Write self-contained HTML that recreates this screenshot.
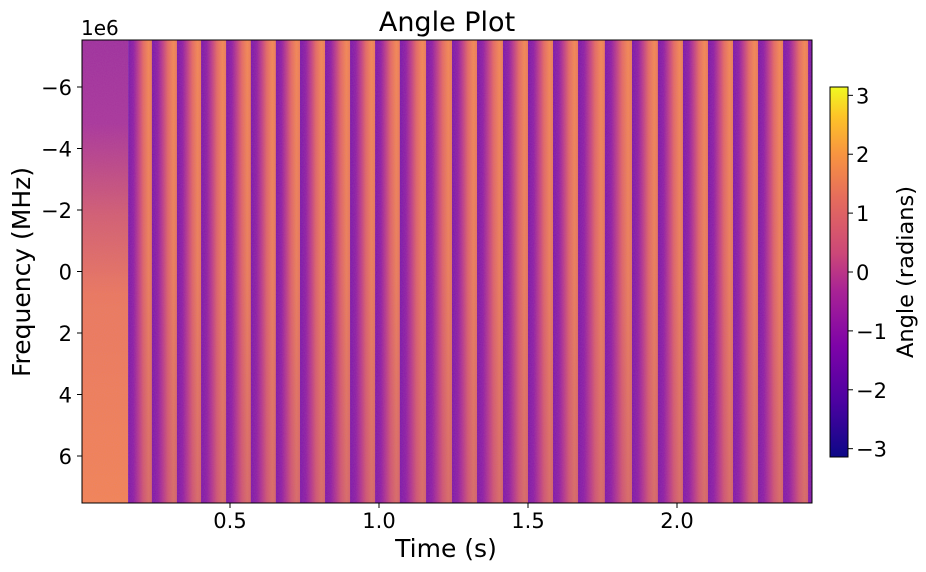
<!DOCTYPE html>
<html><head><meta charset="utf-8"><style>
body{margin:0;background:#fff;}
svg{display:block;font-family:"DejaVu Sans","Liberation Sans",sans-serif;}
</style></head><body>
<svg id="chart" width="926" height="572" viewBox="0 0 926 572" xmlns="http://www.w3.org/2000/svg">
<defs>
<linearGradient id="stripe" x1="0" x2="1" y1="0" y2="0">
<stop offset="0" stop-color="#780ca8"/>
<stop offset="0.22" stop-color="#8e18a4"/>
<stop offset="0.42" stop-color="#bd3f87"/>
<stop offset="0.62" stop-color="#e46c5e"/>
<stop offset="0.84" stop-color="#f38b4a"/>
<stop offset="1" stop-color="#e97b55"/>
</linearGradient>
<linearGradient id="shade" x1="0" x2="0" y1="0" y2="1">
<stop offset="0" stop-color="#8a14a4" stop-opacity="0"/>
<stop offset="0.5" stop-color="#8a14a4" stop-opacity="0.08"/>
<stop offset="1" stop-color="#8a14a4" stop-opacity="0.25"/>
</linearGradient>
<linearGradient id="lead" x1="0" x2="0" y1="0" y2="1">
<stop offset="0" stop-color="#9e2e9c"/>
<stop offset="0.18" stop-color="#a8359a"/>
<stop offset="0.38" stop-color="#d2606e"/>
<stop offset="0.55" stop-color="#ea7a58"/>
<stop offset="1" stop-color="#f2864e"/>
</linearGradient>
<linearGradient id="cmap" x1="0" x2="0" y1="1" y2="0">
<stop offset="0" stop-color="#0d0887"/>
<stop offset="0.15" stop-color="#4c02a1"/>
<stop offset="0.3" stop-color="#7e03a8"/>
<stop offset="0.45" stop-color="#a92395"/>
<stop offset="0.55" stop-color="#cc4778"/>
<stop offset="0.7" stop-color="#e66c5c"/>
<stop offset="0.82" stop-color="#f89540"/>
<stop offset="0.92" stop-color="#fdc328"/>
<stop offset="1" stop-color="#f0f921"/>
</linearGradient>
<filter id="noise" x="0" y="0" width="100%" height="100%">
<feTurbulence type="fractalNoise" baseFrequency="0.9" numOctaves="1" seed="3" result="n"/>
<feColorMatrix in="n" type="matrix" values="0 0 0 0 0.6  0 0 0 0 0.2  0 0 0 0 0.6  0 0 0 0.12 0" result="nc"/>
<feComposite in="nc" in2="SourceGraphic" operator="atop"/>
</filter>
<clipPath id="plotclip"><rect x="82" y="40" width="730" height="463"/></clipPath>
</defs>
<g id="plot" clip-path="url(#plotclip)" filter="url(#noise)"></g>
<rect x="82" y="40" width="730" height="463" fill="none" stroke="#000" stroke-width="1"/>
<g id="xticks"></g><g id="yticks"></g>
<text x="447" y="31" font-size="27" text-anchor="middle">Angle Plot</text>
<text x="446" y="557" font-size="25" text-anchor="middle">Time (s)</text>
<text transform="translate(30,272) rotate(-90)" font-size="25" text-anchor="middle">Frequency (MHz)</text>
<text x="81" y="35" font-size="20">1e6</text>
<rect x="830" y="87" width="18" height="370" fill="url(#cmap)" stroke="#000" stroke-width="1"/>
<g id="cticks"></g>
<text transform="translate(913,272) rotate(-90)" font-size="22.5" text-anchor="middle">Angle (radians)</text>
</svg>
<script>
const stripeEdges=[0.158,0.238,0.322,0.403,0.487,0.570,0.654,0.735,0.819,0.903,0.987,1.070,1.158,1.245,1.329,1.416,1.500,1.584,1.668,1.758,1.849,1.936,2.020,2.104,2.188,2.272,2.356,2.440,2.524];
const xTickVals=[0.5,1.0,1.5,2.0];
const xTickLabels=["0.5","1.0","1.5","2.0"];
const yTickVals=[-6,-4,-2,0,2,4,6];
const yTickLabels=["\u22126","\u22124","\u22122","0","2","4","6"];
const cTickVals=[3,2,1,0,-1,-2,-3];
const cTickLabels=["3","2","1","0","\u22121","\u22122","\u22123"];
const NS="http://www.w3.org/2000/svg";
const X=t=>81+t*298;
const Y=f=>271.5+f*30.75;
const C=v=>272-v*(370/(2*Math.PI));
function mk(tag,attrs,parent){const e=document.createElementNS(NS,tag);for(const k in attrs)e.setAttribute(k,attrs[k]);parent.appendChild(e);return e;}
const plot=document.getElementById('plot');
let lead=mk('rect',{x:82,y:40,width:X(stripeEdges[0])-82,height:463,fill:'url(#lead)'},plot);


for(let i=0;i<stripeEdges.length-1;i++){
 const x0=X(stripeEdges[i]),x1=X(stripeEdges[i+1]);
 const r=mk('rect',{x:x0,y:40,width:x1-x0+0.5,height:463,fill:'url(#stripe)'},plot);
 
 
}
const sh=mk('rect',{x:X(stripeEdges[0]),y:40,width:812-X(stripeEdges[0]),height:463,fill:'url(#shade)'},plot);


const xt=document.getElementById('xticks');
xTickVals.forEach((v,i)=>{const x=X(v);
 mk('line',{x1:x,x2:x,y1:503,y2:508,stroke:'#000'},xt);
 const t=mk('text',{x:x,y:528,'font-size':21,'text-anchor':'middle'},xt);t.textContent=xTickLabels[i];
 
 });
const yt=document.getElementById('yticks');
yTickVals.forEach((v,i)=>{const y=Y(v);
 mk('line',{x1:77,x2:82,y1:y,y2:y,stroke:'#000'},yt);
 const t=mk('text',{x:72,y:y+8,'font-size':21,'text-anchor':'end'},yt);t.textContent=yTickLabels[i];
 
 });
const ct=document.getElementById('cticks');
cTickVals.forEach((v,i)=>{const y=C(v);
 mk('line',{x1:848,x2:853,y1:y,y2:y,stroke:'#000'},ct);
 const t=mk('text',{x:856,y:y+8,'font-size':21},ct);t.textContent=cTickLabels[i];
 
 });
</script>
</body></html>
